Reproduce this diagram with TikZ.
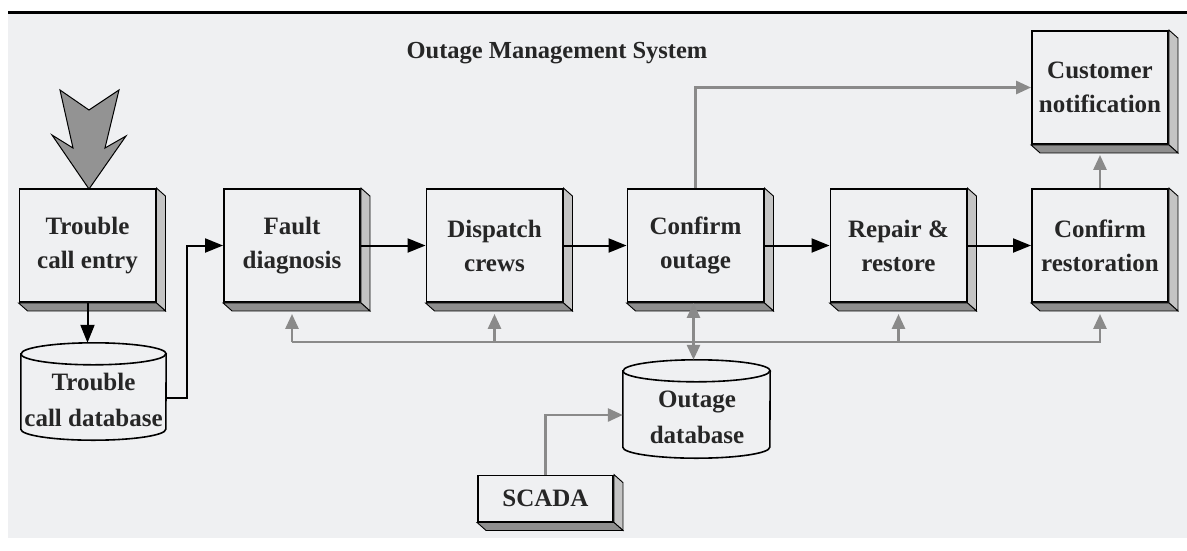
\documentclass[tikz,border=0pt]{standalone}
\usepackage{fontspec}
\setmainfont{Liberation Serif}
\usetikzlibrary{arrows.meta,calc}
\definecolor{bg}{HTML}{EFF0F2}
\definecolor{arrgray}{HTML}{8A8A8A}
\definecolor{bigarrow}{HTML}{939393}
\definecolor{txt}{HTML}{262626}
\definecolor{sideface}{HTML}{C4C4C4}
\definecolor{bottomface}{HTML}{8E8E8E}
\newcommand\boxshadow[1]{%
  \filldraw[fill=sideface,draw=black,line width=0.9pt] (#1.north east) -- ++(9,8) -- ($(#1.south east)+(9,8)$) -- (#1.south east) -- cycle;
  \filldraw[fill=bottomface,draw=black,line width=0.9pt] (#1.south west) -- ++(9,8) -- ($(#1.south east)+(9,8)$) -- (#1.south east) -- cycle;
}
\newcommand\dbcyl[3]{%
  \draw[line width=1.6pt] ([yshift=-#3pt]#1.north west) -- ([yshift=#3pt]#1.south west)
     arc[start angle=180,end angle=360,x radius=#2pt,y radius=#3pt]
     -- ([yshift=-#3pt]#1.north east)
     arc[start angle=0,end angle=180,x radius=#2pt,y radius=#3pt] -- cycle;
  \draw[line width=1.6pt] ([yshift=-#3pt]#1.north west) arc[start angle=180,end angle=360,x radius=#2pt,y radius=#3pt];
}
\begin{document}
\begin{tikzpicture}[x=1pt,y=-1pt,
  stepbox/.style={draw=black,line width=1.9pt,fill=bg,minimum width=136pt,minimum height=113pt,
    inner sep=0pt,align=center,font=\bfseries\fontsize{25}{34}\selectfont,text=txt},
  dbshape/.style={inner sep=0pt,minimum width=#1},
  dbtext/.style={align=center,font=\bfseries\fontsize{25}{36}\selectfont,text=txt,inner sep=0pt},
  barr/.style={draw=black,line width=2pt,-{Triangle[length=18pt,width=14pt]}},
  garr/.style={draw=arrgray,line width=2.8pt,-{Triangle[length=15pt,width=13pt]}},
  gline/.style={draw=arrgray,line width=2.8pt},
]
\useasboundingbox (0,0) rectangle (1187,550);
\fill[white] (0,0) rectangle (1187,550);
\fill[bg] (8,13) rectangle (1187,538);
\draw[line width=3pt] (8,12) -- (1187,12);

% title
\node[anchor=base,font=\bfseries\fontsize{24.5}{30}\selectfont,text=txt,inner sep=0pt] (title) at (557,58) {Outage Management System};

% boxes
\node[stepbox] (tce) at (87.5,245.5) {Trouble\\call entry};
\node[stepbox] (fd) at (292,245.5) {Fault\\diagnosis};
\node[stepbox] (dc) at (494.5,245.5) {Dispatch\\crews};
\node[stepbox] (co) at (695.5,245.5) {Confirm\\outage};
\node[stepbox] (rr) at (898.5,245.5) {Repair \&\\restore};
\node[stepbox] (cr) at (1100,245.5) {Confirm\\restoration};
\node[stepbox] (cn) at (1100,87.5) {Customer\\notification};
\node[stepbox,minimum width=135pt,minimum height=46pt] (scada) at (545.5,498.5) {SCADA};

\foreach \n in {tce,fd,dc,co,rr,cr,cn,scada} {\boxshadow{\n}}

% databases
\node[dbshape=145pt,minimum height=97pt] (tdb) at (93.5,391.5) {};
\dbcyl{tdb}{72.5}{11}
\node[dbtext] (tdbt) at (93.5,400) {Trouble\\call database};
\node[dbshape=147pt,minimum height=98pt] (odb) at (696.5,409) {};
\dbcyl{odb}{73.5}{11}
\node[dbtext] (odbt) at (697,417) {Outage\\database};

% big incoming arrow
\filldraw[fill=bigarrow,draw=black,line width=1pt]
  (60,90) -- (89,110) -- (119,90) -- (105,148) -- (126,136) -- (89,189)
  -- (52,135) -- (73,148) -- cycle;

% black flow arrows
\draw[barr] (tce.south) -- (tce.south |- tdb.north);
\draw[barr] ([yshift=-6pt]tdb.east) -- ++(21,0) |- (fd.west);
\draw[barr] (fd.east) -- (dc.west);
\draw[barr] (dc.east) -- (co.west);
\draw[barr] (co.east) -- (rr.west);
\draw[barr] (rr.east) -- (cr.west);

% gray arrows
\coordinate (busL) at (292,342);
\coordinate (busR) at (1101,342);
\draw[gline] (busL) -- (busR);
\draw[garr] (fd.south |- busL) -- ([yshift=-11pt]fd.south);
\draw[garr] (dc.south |- busL) -- ([yshift=-11pt]dc.south);
\draw[garr] (rr.south |- busL) -- ([yshift=-11pt]rr.south);
\draw[garr] (cr.south |- busL) -- ([yshift=-11pt]cr.south);
\draw[gline,{Triangle[length=15pt,width=13pt]}-{Triangle[length=15pt,width=13pt]}] ([xshift=-2pt]co.south) -- ([xshift=-2pt]co.south |- odb.north);
\draw[garr] (co.north) |- (cn.west);
\draw[garr] (cr.north) -- ([yshift=-10pt]cn.south);
\draw[garr] (scada.north) |- ([yshift=-6pt]odb.west);
\end{tikzpicture}
\end{document}
